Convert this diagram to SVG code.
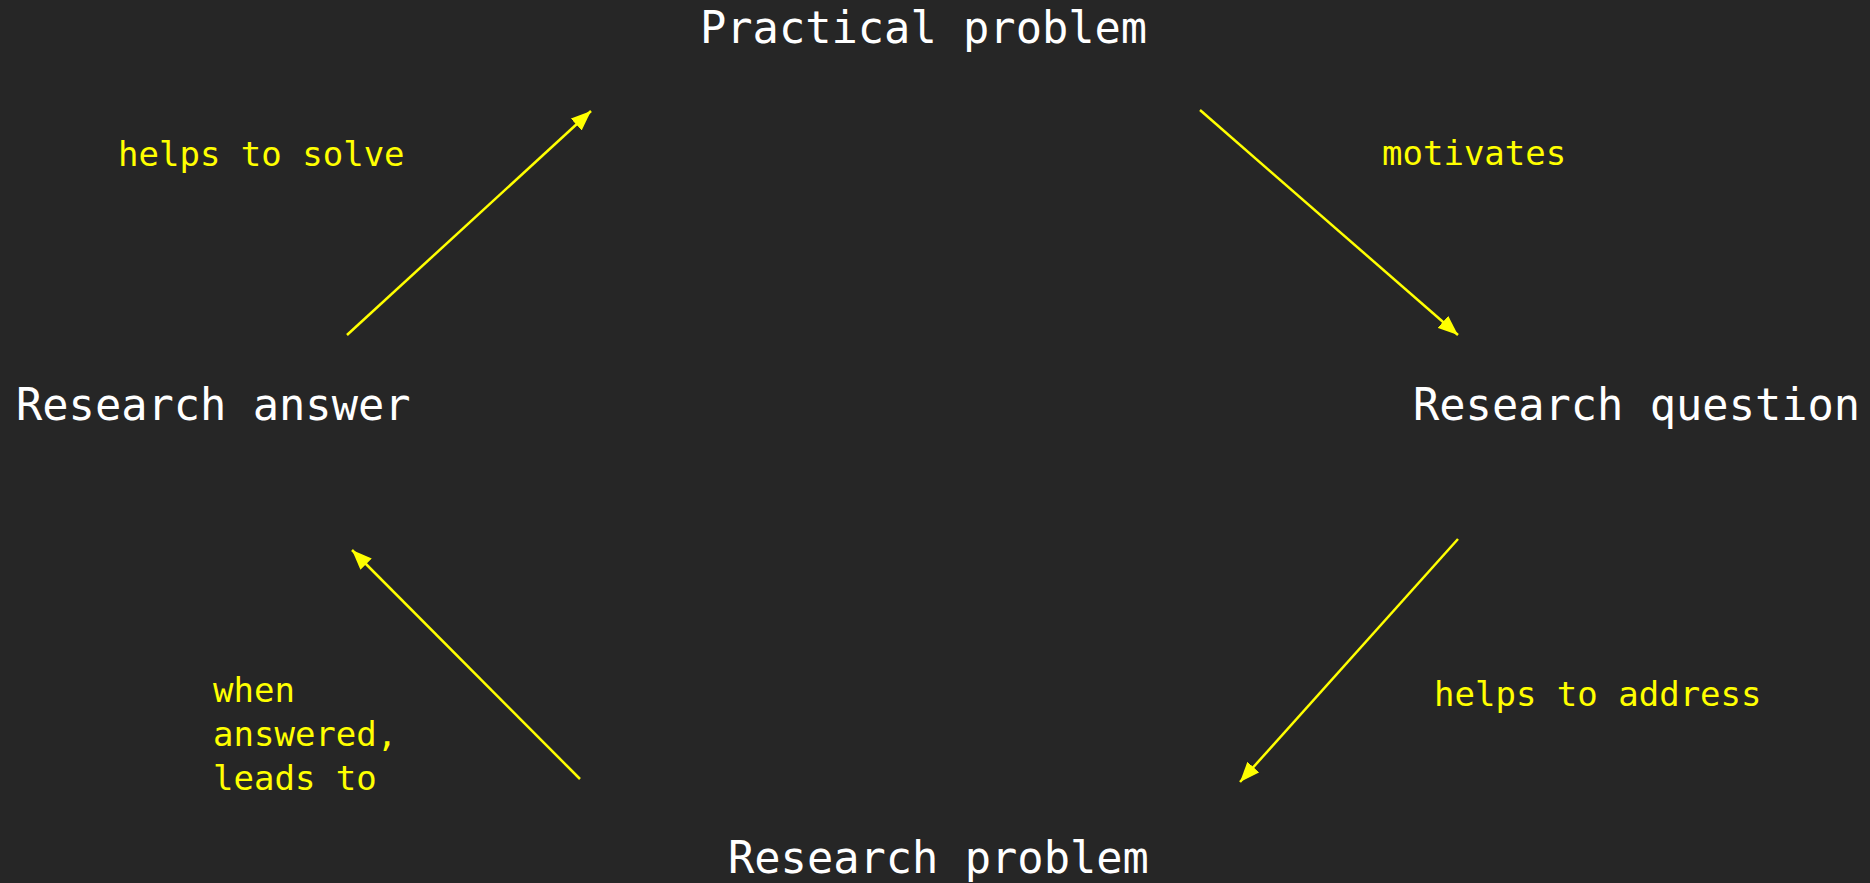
<svg xmlns="http://www.w3.org/2000/svg" width="1870" height="883" viewBox="0 0 1870 883">
<defs>
<style>
.node{font-family:"DejaVu Sans Mono","Liberation Mono",monospace;font-size:43.7px;fill:#ffffff;}
.lbl{font-family:"DejaVu Sans Mono","Liberation Mono",monospace;font-size:34px;fill:#ffff00;}
.edge{stroke:#ffff00;stroke-width:2.5;fill:none;marker-end:url(#ah);}
</style>
<marker id="ah" viewBox="0 0 20 16" refX="20" refY="8" markerWidth="20" markerHeight="16" markerUnits="userSpaceOnUse" orient="auto">
<path d="M0,0 L20,8 L0,16 Z" fill="#ffff00"/>
</marker>
</defs>
<rect width="1870" height="883" fill="#262626"/>
<g id="practical-problem"><text class="node" x="700" y="43">Practical problem</text></g>
<g id="research-question"><text class="node" x="1413" y="420">Research question</text></g>
<g id="research-problem"><text class="node" x="728" y="873">Research problem</text></g>
<g id="research-answer"><text class="node" x="16" y="420">Research answer</text></g>
<g id="connectors">
<line class="edge" x1="1200" y1="110" x2="1458" y2="335"/>
<line class="edge" x1="1458" y1="539" x2="1240" y2="782"/>
<line class="edge" x1="580" y1="779" x2="352" y2="550"/>
<line class="edge" x1="347" y1="335" x2="591" y2="111"/>
</g>
<g id="labels">
<text class="lbl" x="118" y="166">helps to solve</text>
<text class="lbl" x="1382" y="165">motivates</text>
<text class="lbl" x="1434" y="706">helps to address</text>
<text class="lbl" x="213" y="702">when</text>
<text class="lbl" x="213" y="746">answered,</text>
<text class="lbl" x="213" y="790">leads to</text>
</g>
</svg>
